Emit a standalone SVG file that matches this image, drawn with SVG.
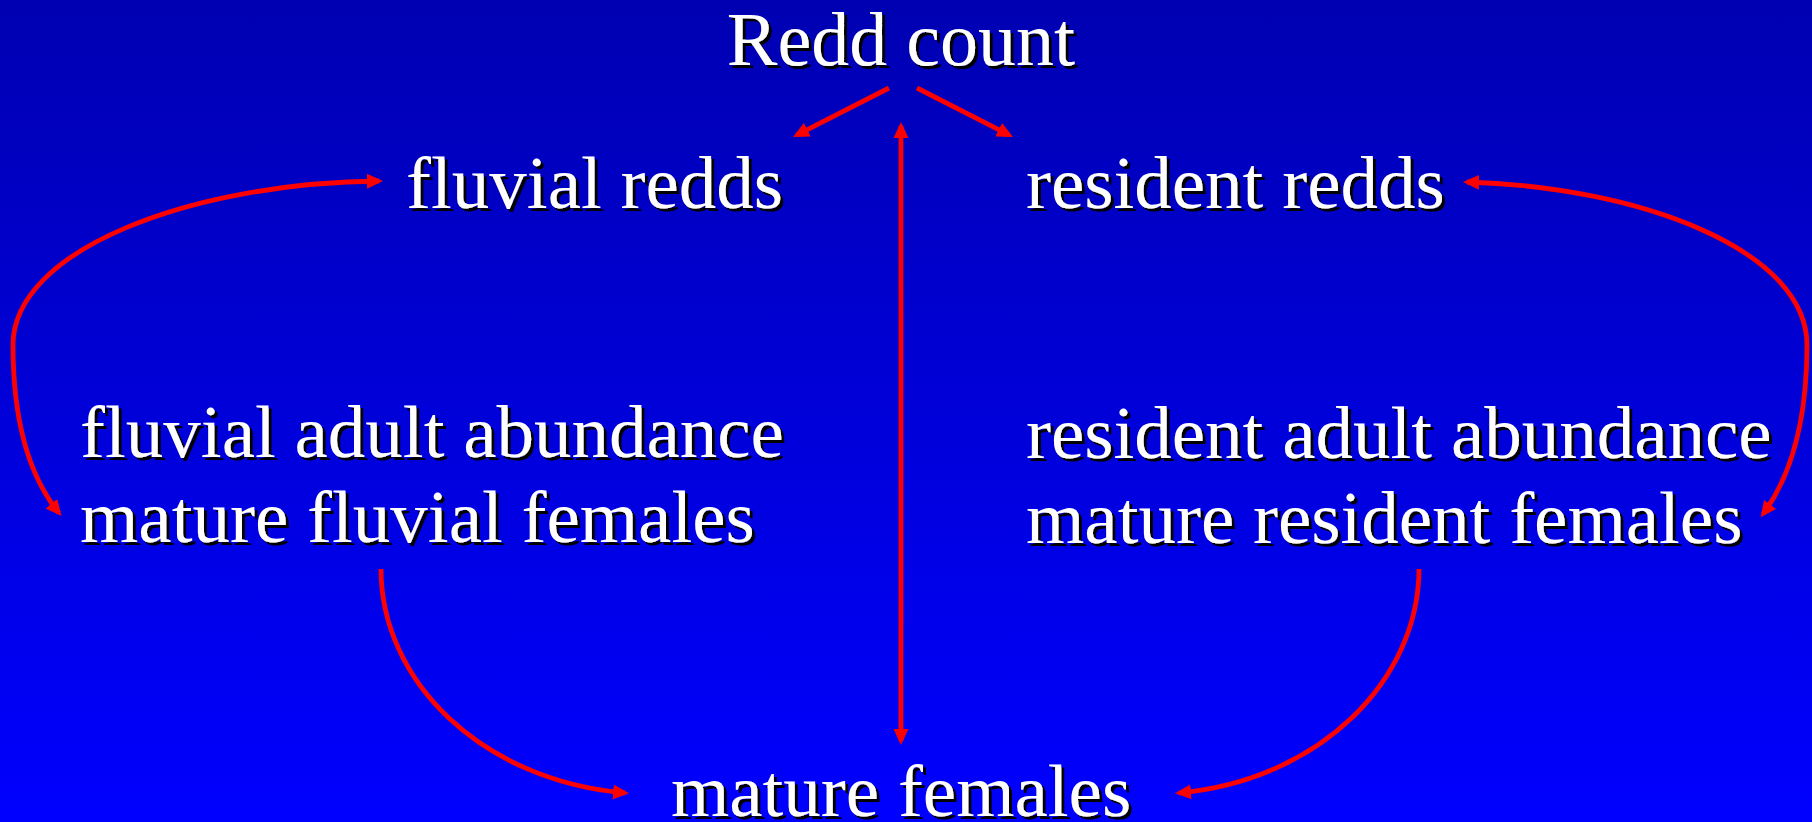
<svg xmlns="http://www.w3.org/2000/svg" width="1812" height="822" viewBox="0 0 1812 822">
  <defs>
    <linearGradient id="bg" x1="0" y1="0" x2="0" y2="1">
      <stop offset="0" stop-color="#0000B2"/>
      <stop offset="1" stop-color="#0000FF"/>
    </linearGradient>
    <filter id="shadow" x="-5%" y="-20%" width="110%" height="140%">
      <feDropShadow dx="3" dy="3" stdDeviation="0" flood-color="#000000" flood-opacity="1"/>
    </filter>
    <marker id="head" markerUnits="userSpaceOnUse" markerWidth="18" markerHeight="16" refX="12" refY="8" orient="auto-start-reverse">
      <path d="M0,0.5 L16,8 L0,15.5 z" fill="#FF0000"/>
    </marker>
    <style>
      .lbl { font-family: "Liberation Serif", "Times New Roman", serif; font-size: 75px; fill: #FFFFFF; filter: url(#shadow); }
      .title { font-size: 76px; }
      .link { fill: none; stroke: #FF0000; stroke-width: 4.8; }
    </style>
  </defs>

  <rect x="0" y="0" width="1812" height="822" fill="url(#bg)"/>

  <g id="connectors">
    <path class="link" d="M889,88 L796.6,135.2" marker-end="url(#head)"/>
    <path class="link" d="M917,88 L1009.4,135.2" marker-end="url(#head)"/>
    <path class="link" d="M901,126 L901,741" marker-start="url(#head)" marker-end="url(#head)"/>
    <path class="link" d="M379,181 C190,183 13,250 13,345 C13,420 28,475 59,513" marker-start="url(#head)" marker-end="url(#head)"/>
    <path class="link" d="M1467,182 C1640,187 1807,250 1807,345 C1807,420 1792,475 1763,514" marker-start="url(#head)" marker-end="url(#head)"/>
    <path class="link" d="M381,569 C381,680 480,780 625,793" marker-end="url(#head)"/>
    <path class="link" d="M1419,569 C1419,680 1320,780 1179,793" marker-end="url(#head)"/>
  </g>

  <g id="redd-count">
    <text class="lbl title" x="901" y="65" text-anchor="middle">Redd count</text>
  </g>
  <g id="fluvial-redds">
    <text class="lbl" x="406" y="208">fluvial redds</text>
  </g>
  <g id="resident-redds">
    <text class="lbl" x="1026" y="208">resident redds</text>
  </g>
  <g id="fluvial-adults">
    <text class="lbl" x="80" y="457">fluvial adult abundance</text>
    <text class="lbl" x="80" y="542">mature fluvial females</text>
  </g>
  <g id="resident-adults">
    <text class="lbl" x="1026" y="458">resident adult abundance</text>
    <text class="lbl" x="1026" y="543">mature resident females</text>
  </g>
  <g id="mature-females">
    <text class="lbl" x="901" y="816" text-anchor="middle">mature females</text>
  </g>
</svg>
